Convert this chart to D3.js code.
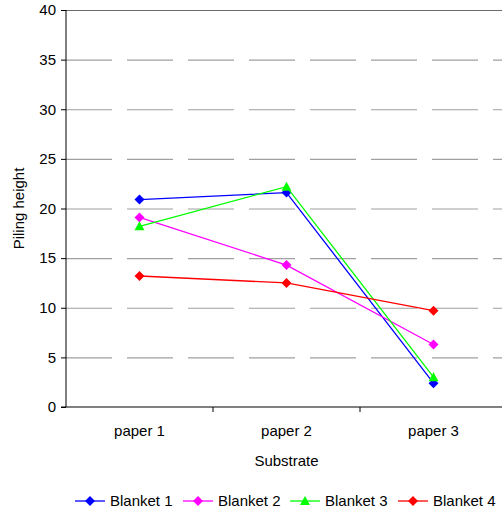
<!DOCTYPE html>
<meta charset="utf-8">
<script src="https://d3js.org/d3.v7.min.js"></script>
<style>
  body { margin: 0; background: #fff; }
  text { font-family: "Liberation Sans", Arial, sans-serif; fill: #000; }
</style>
<body>
<svg id="chart" width="502" height="512"></svg>
<script>
// data
const substrates = ["paper 1", "paper 2", "paper 3"];
const blanket1 = [20.9, 21.6, 2.4];
const blanket2 = [19.1, 14.3, 6.3];
const blanket3 = [18.2, 22.2, 3.0];
const blanket4 = [13.2, 12.5, 9.7];
const seriesNames = ["Blanket 1", "Blanket 2", "Blanket 3", "Blanket 4"];
const yTicks = [0, 5, 10, 15, 20, 25, 30, 35, 40];

const series = [
  {name: seriesNames[0], values: blanket1, color: "#0000ff", shape: "diamond"},
  {name: seriesNames[1], values: blanket2, color: "#ff00ff", shape: "diamond"},
  {name: seriesNames[2], values: blanket3, color: "#00ff00", shape: "triangle"},
  {name: seriesNames[3], values: blanket4, color: "#ff0000", shape: "diamond"}
];

const svg = d3.select("#chart");
const plotL = 66, plotR = 507, plotT = 10, plotB = 407;

const x = d3.scaleBand().domain(substrates).range([plotL, plotR]);
const y = d3.scaleLinear().domain([0, 40]).range([plotB, plotT]);

// gridlines
svg.append("g")
  .selectAll("line")
  .data(yTicks.filter(d => d > 0))
  .join("line")
    .attr("x1", plotL).attr("x2", plotR)
    .attr("y1", d => y(d) + 0.5).attr("y2", d => y(d) + 0.5)
    .style("stroke", d => d === 40 ? "#6a6a6a" : "#a0a0a0")
    .style("stroke-width", 1.2)
    .style("stroke-dasharray", d => d === 40 ? null : "46,15");

// y axis
const yAxis = svg.append("g")
  .attr("transform", `translate(${plotL},0)`)
  .call(d3.axisLeft(y).tickValues(yTicks).tickSize(5).tickPadding(5));
yAxis.select(".domain").attr("d", `M0,${plotT}V${plotB}`).style("stroke", "#000");
yAxis.selectAll(".tick line").style("stroke", "#000");
yAxis.selectAll("text").style("font-size", "15px").style("font-family", "Liberation Sans, Arial, sans-serif");

// x axis
const xAxis = svg.append("g")
  .attr("transform", `translate(0,${plotB})`)
  .call(d3.axisBottom(x).tickSize(0).tickPadding(18));
xAxis.select(".domain").attr("d", `M${plotL - 5},0H${plotR}`).style("stroke", "#000");
xAxis.selectAll("text").style("font-size", "15px").style("font-family", "Liberation Sans, Arial, sans-serif");
// category boundary ticks
svg.append("g")
  .selectAll("line")
  .data(substrates.slice(1))
  .join("line")
    .attr("x1", d => x(d)).attr("x2", d => x(d))
    .attr("y1", plotB).attr("y2", plotB + 5)
    .style("stroke", "#000");

// axis titles
svg.append("text")
  .attr("transform", `translate(24,${(plotT + plotB) / 2}) rotate(-90)`)
  .attr("text-anchor", "middle")
  .style("font-size", "15px")
  .text("Piling height");
svg.append("text")
  .attr("x", x("paper 2") + x.bandwidth() / 2)
  .attr("y", 466)
  .attr("text-anchor", "middle")
  .style("font-size", "15px")
  .text("Substrate");

const cx = i => x(substrates[i]) + x.bandwidth() / 2;
const line = d3.line().x((d, i) => cx(i)).y(d => y(d));

function marker(g, shape, color, px, py) {
  if (shape === "triangle") {
    g.append("path")
      .attr("d", `M${px},${py - 5}L${px + 5},${py + 4}L${px - 5},${py + 4}Z`)
      .style("fill", color);
  } else {
    g.append("path")
      .attr("d", `M${px},${py - 5}L${px + 5},${py}L${px},${py + 5}L${px - 5},${py}Z`)
      .style("fill", color);
  }
}

// lines and markers
series.forEach(s => {
  const g = svg.append("g");
  g.append("path")
    .attr("d", line(s.values))
    .style("fill", "none")
    .style("stroke", s.color)
    .style("stroke-width", 1.3);
  s.values.forEach((v, i) => marker(g, s.shape, s.color, cx(i), y(v)));
});

// legend
const legendX = [75, 183, 290, 398];
const ly = 501;
series.forEach((s, i) => {
  const g = svg.append("g");
  g.append("line")
    .attr("x1", legendX[i]).attr("x2", legendX[i] + 30)
    .attr("y1", ly).attr("y2", ly)
    .style("stroke", s.color)
    .style("stroke-width", 1.3);
  marker(g, s.shape, s.color, legendX[i] + 15, ly);
  g.append("text")
    .attr("x", legendX[i] + 35)
    .attr("y", ly + 5)
    .style("font-size", "15px")
    .text(s.name);
});
</script>
</body>
